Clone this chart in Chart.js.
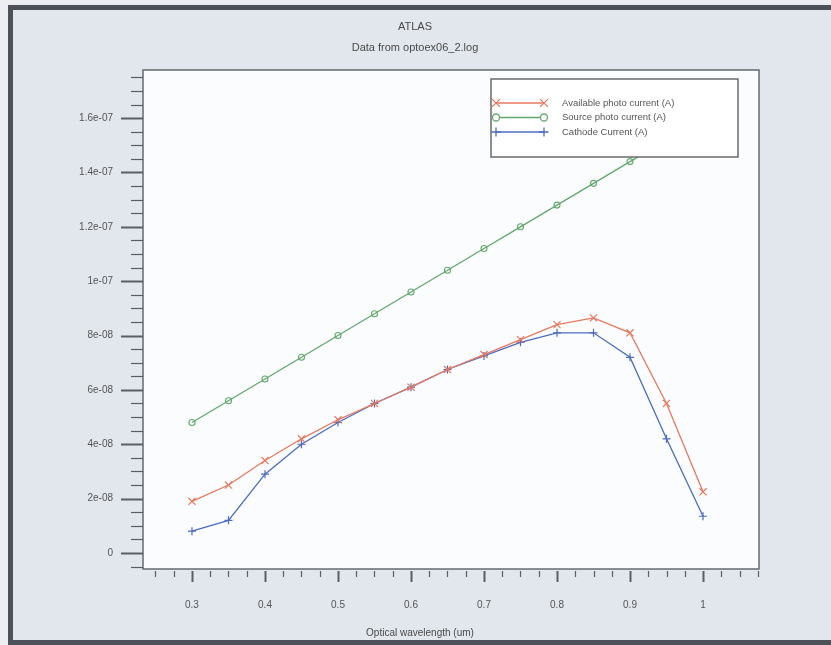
<!DOCTYPE html>
<html>
<head>
<meta charset="utf-8">
<script src="https://cdn.jsdelivr.net/npm/chart.js@4/dist/chart.umd.min.js"></script>
<style>
  html, body { margin: 0; padding: 0; background: #eef0f3; }
  canvas { display: block; }
</style>
</head>
<body>
<canvas id="myChart" width="831" height="645"></canvas>
<script>
const wavelength = [0.3, 0.35, 0.4, 0.45, 0.5, 0.55, 0.6, 0.65, 0.7, 0.75, 0.8, 0.85, 0.9, 0.95, 1.0]
const availableCurrent = [1.9e-8, 2.5e-8, 3.4e-8, 4.2e-8, 4.9e-8, 5.5e-8, 6.1e-8, 6.75e-8, 7.3e-8, 7.85e-8, 8.4e-8, 8.65e-8, 8.1e-8, 5.5e-8, 2.25e-8]
const sourceCurrent = [4.8e-8, 5.6e-8, 6.4e-8, 7.2e-8, 8.0e-8, 8.8e-8, 9.6e-8, 10.4e-8, 11.2e-8, 12.0e-8, 12.8e-8, 13.6e-8, 14.4e-8, 15.2e-8, 16.0e-8]
const cathodeCurrent = [0.8e-8, 1.2e-8, 2.9e-8, 4.0e-8, 4.8e-8, 5.5e-8, 6.1e-8, 6.75e-8, 7.25e-8, 7.75e-8, 8.1e-8, 8.1e-8, 7.2e-8, 4.2e-8, 1.35e-8]

const seriesLabels = ["Available photo current (A)", "Source photo current (A)", "Cathode Current (A)"]

const xTickValues = [0.3, 0.4, 0.5, 0.6, 0.7, 0.8, 0.9, 1.0]
const xTickLabels = ["0.3", "0.4", "0.5", "0.6", "0.7", "0.8", "0.9", "1"]
const yTickValues = [0, 2e-8, 4e-8, 6e-8, 8e-8, 1e-7, 1.2e-7, 1.4e-7, 1.6e-7]
const yTickLabels = ["0", "2e-08", "4e-08", "6e-08", "8e-08", "1e-07", "1.2e-07", "1.4e-07", "1.6e-07"]

const xMin = 0.2329, xMax = 1.0767
const yMin = -5.9e-9, yMax = 1.777e-7
const xMinor = 0.025, xMajor = 0.1
const yMinor = 5e-9, yMajor = 2e-8

const FONT = "'Liberation Sans', Arial, sans-serif"
const TEXT = "#4a4a4a"

const pts = (ys) => wavelength.map((x, i) => ({x: x, y: ys[i]}))

const isMajor = (v, step) => Math.abs(v / step - Math.round(v / step)) < 1e-6

// backdrop, outer frame and white plot area
const backdrop = {
  id: 'backdrop',
  beforeDraw(chart) {
    const {ctx, chartArea: a, width, height} = chart
    ctx.save()
    ctx.fillStyle = "#eceef2"
    ctx.fillRect(0, 0, width, height)
    ctx.fillStyle = "#e2e6ed"
    ctx.fillRect(13, 10, width - 13, height - 15)
    ctx.fillStyle = "#4d525a"
    ctx.fillRect(8, 5, width - 8, 5)
    ctx.fillRect(8, 5, 5, height - 5)
    ctx.fillRect(8, height - 5, width - 8, 5)
    ctx.fillStyle = "#fbfcfe"
    ctx.fillRect(a.left, a.top, a.right - a.left, a.bottom - a.top)
    ctx.restore()
  }
}

// legend box sitting inside the plot, over the data
const boxLegend = {
  id: 'boxLegend',
  afterDatasetsDraw(chart) {
    const {ctx, chartArea: a} = chart
    const left = a.right - 268, top = a.top + 9, w = 247, h = 78
    ctx.save()
    ctx.fillStyle = "#ffffff"
    ctx.fillRect(left, top, w, h)
    ctx.strokeStyle = "#6a6a6a"
    ctx.lineWidth = 1.5
    ctx.strokeRect(left, top, w, h)
    chart.data.datasets.forEach((ds, i) => {
      const yy = top + 24 + i * 14.5
      ctx.strokeStyle = ds.borderColor
      ctx.lineWidth = 1.3
      ctx.beginPath()
      ctx.moveTo(left + 5, yy)
      ctx.lineTo(left + 53, yy)
      ctx.stroke()
      ctx.fillStyle = "#ffffff"
      const opts = {pointStyle: ds.pointStyle, radius: ds.pointRadius + 0.5, rotation: 0, borderWidth: 1.2}
      Chart.helpers.drawPoint(ctx, opts, left + 5, yy)
      Chart.helpers.drawPoint(ctx, opts, left + 53, yy)
      ctx.fillStyle = "#555"
      ctx.font = "9.5px " + FONT
      ctx.textBaseline = "middle"
      ctx.textAlign = "left"
      ctx.fillText(ds.label, left + 71, yy)
    })
    ctx.restore()
  }
}

// plot frame, major/minor tick marks and the x axis title
const frameTicks = {
  id: 'frameTicks',
  afterDraw(chart) {
    const {ctx, chartArea: a, scales: {x, y}} = chart
    ctx.save()
    ctx.strokeStyle = "#666a70"
    ctx.lineWidth = 1.5
    ctx.strokeRect(a.left, a.top, a.right - a.left, a.bottom - a.top)

    ctx.strokeStyle = "#5a5e65"
    for (let i = Math.ceil(y.min / yMinor); i * yMinor <= y.max; i++) {
      const v = i * yMinor
      const py = Math.round(y.getPixelForValue(v)) + 0.5
      const major = isMajor(v, yMajor)
      ctx.lineWidth = major ? 2 : 1.2
      ctx.beginPath()
      ctx.moveTo(a.left - (major ? 22 : 12), py)
      ctx.lineTo(a.left, py)
      ctx.stroke()
    }
    for (let i = Math.ceil(x.min / xMinor); i * xMinor <= x.max; i++) {
      const v = i * xMinor
      const px = Math.round(x.getPixelForValue(v)) + 0.5
      const major = isMajor(v, xMajor)
      ctx.lineWidth = major ? 2 : 1.2
      ctx.beginPath()
      ctx.moveTo(px, a.bottom + 2)
      ctx.lineTo(px, a.bottom + (major ? 13 : 8))
      ctx.stroke()
    }

    ctx.fillStyle = TEXT
    ctx.font = "10px " + FONT
    ctx.textAlign = "center"
    ctx.textBaseline = "middle"
    ctx.fillText("Optical wavelength (um)", 420, 633)
    ctx.restore()
  }
}

const ctx = document.getElementById('myChart').getContext('2d')

new Chart(ctx, {
  type: 'line',
  data: {
    datasets: [
      {label: seriesLabels[0], data: pts(availableCurrent), borderColor: "#e8785e", pointStyle: 'crossRot', pointRadius: 5, pointBorderWidth: 1.2},
      {label: seriesLabels[1], data: pts(sourceCurrent), borderColor: "#62a86c", pointStyle: 'circle', pointRadius: 3, pointBorderWidth: 1.1, pointBackgroundColor: "rgba(255,255,255,0)"},
      {label: seriesLabels[2], data: pts(cathodeCurrent), borderColor: "#4d6cc0", pointStyle: 'cross', pointRadius: 4, pointBorderWidth: 1.2}
    ].map(d => Object.assign({borderWidth: 1.3, tension: 0, fill: false, pointHoverRadius: d.pointRadius}, d))
  },
  options: {
    responsive: false,
    animation: false,
    devicePixelRatio: 1,
    layout: {padding: {left: 71, right: 72, top: 0, bottom: 0}},
    plugins: {
      legend: {display: false},
      tooltip: {enabled: false},
      title: {display: true, text: "ATLAS", color: TEXT, font: {family: FONT, size: 11, weight: 'normal'}, padding: {top: 20, bottom: 8}},
      subtitle: {display: true, text: "Data from optoex06_2.log", color: TEXT, font: {family: FONT, size: 11}, padding: {top: 0, bottom: 15.6}}
    },
    scales: {
      x: {
        type: 'linear', min: xMin, max: xMax,
        afterFit(s) { s.height = 76 },
        afterBuildTicks(s) { s.ticks = xTickValues.map(v => ({value: v})) },
        grid: {display: false, drawTicks: false},
        border: {display: false},
        ticks: {padding: 30, autoSkip: false, maxRotation: 0, color: "#555", font: {family: FONT, size: 10},
          callback: (v, i) => xTickLabels[i]}
      },
      y: {
        type: 'linear', min: yMin, max: yMax,
        afterFit(s) { s.width = 72 },
        afterBuildTicks(s) { s.ticks = yTickValues.map(v => ({value: v})) },
        grid: {display: false, drawTicks: false},
        border: {display: false},
        ticks: {padding: 30, autoSkip: false, color: "#555", font: {family: FONT, size: 10},
          callback: (v, i) => yTickLabels[i]}
      }
    }
  },
  plugins: [backdrop, boxLegend, frameTicks]
})
</script>
</body>
</html>
